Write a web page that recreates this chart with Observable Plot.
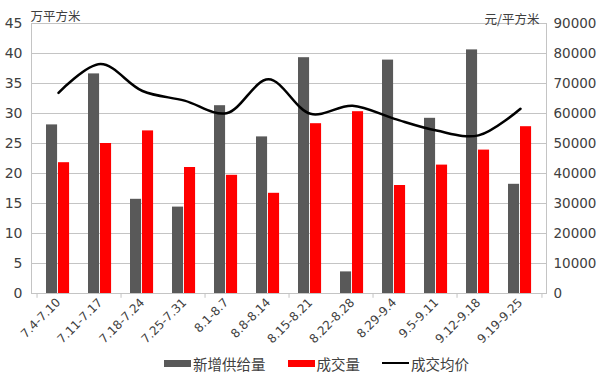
<!DOCTYPE html>
<html>
<head>
<meta charset="utf-8">
<script src="https://cdn.jsdelivr.net/npm/d3@7"></script>
<script src="https://cdn.jsdelivr.net/npm/@observablehq/plot@0.6"></script>
<style>
  body { margin: 0; background: #fff; font-family: "DejaVu Sans", "Noto Sans CJK SC", sans-serif; }
  #chart { width: 600px; }
  .legend { display: flex; justify-content: flex-start; align-items: center; height: 36px; font-family: "Noto Sans CJK SC", sans-serif; font-size: 14.5px; color: #404040; padding-left: 164px; }
  .legend .item { display: flex; align-items: center; margin-right: 22px; }
  .legend .sw { width: 27px; height: 7px; margin-right: 2px; }
  .legend .ln { width: 27px; height: 2.5px; background: #000; margin-right: 2px; }
</style>
</head>
<body>
<div id="chart"></div>
<script>
const categories = ["7.4-7.10","7.11-7.17","7.18-7.24","7.25-7.31","8.1-8.7","8.8-8.14","8.15-8.21","8.22-8.28","8.29-9.4","9.5-9.11","9.12-9.18","9.19-9.25"];
const supply = [28.1,36.6,15.7,14.4,31.3,26.1,39.3,3.6,38.9,29.2,40.6,18.2];
const deals = [21.8,25.0,27.1,21.0,19.7,16.7,28.3,30.3,18.0,21.4,23.9,27.8];
const price = [66900,76500,67500,64300,60100,71400,59900,62600,58200,54300,52700,61600];
const leftTicks = [0,5,10,15,20,25,30,35,40,45];
const rightTicks = [0,10000,20000,30000,40000,50000,60000,70000,80000,90000];
const seriesNames = ["新增供给量","成交量","成交均价"];
const leftUnit = "万平方米";
const rightUnit = "元/平方米";

const ratio = rightTicks[rightTicks.length-1] / leftTicks[leftTicks.length-1];
const rows = categories.map((c, i) => ({cat: c, supply: supply[i], deals: deals[i], price: price[i]}));
const bw = 515 / 12;
const tickCats = categories.filter((c, i) => i % 2 === 0);

const chart = Plot.plot({
  width: 600, height: 345,
  marginLeft: 31, marginRight: 54, marginTop: 23, marginBottom: 52,
  style: {fontFamily: '"DejaVu Sans", "Noto Sans CJK SC", sans-serif', background: "#fff"},
  x: {domain: categories, padding: 0, axis: null},
  y: {domain: [0, 45], axis: null},
  marks: [
    Plot.gridY(leftTicks, {stroke: "#c4c4c4", strokeOpacity: 1, strokeWidth: 1}),
    Plot.frame({stroke: "#c4c4c4"}),
    Plot.barY(rows, {x: "cat", y: "supply", fill: "#595959", insetLeft: 9, insetRight: bw - 21}),
    Plot.barY(rows, {x: "cat", y: "deals", fill: "#ff0000", insetLeft: 21, insetRight: bw - 33}),
    Plot.line(rows, {x: "cat", y: d => d.price / ratio, stroke: "#000", strokeWidth: 2.5, curve: "catmull-rom"}),
    Plot.ruleX(tickCats, {x: d => d, dx: -bw / 2, y1: 0, y2: -0.8, stroke: "#c4c4c4"}),
    Plot.ruleX([categories[categories.length - 1]], {dx: bw / 2, y1: 0, y2: -0.8, stroke: "#c4c4c4"}),
    Plot.axisY(leftTicks, {anchor: "left", tickSize: 0, tickPadding: 9, fontSize: 14, fill: "#404040", label: null}),
    Plot.axisY(leftTicks, {anchor: "right", tickSize: 0, tickPadding: 7, fontSize: 13.5, fill: "#404040", label: null, tickFormat: d => String(d * ratio)}),
    Plot.axisX({tickRotate: -45, tickSize: 0, tickPadding: 7, fontSize: 12, fill: "#404040", label: null}),
    Plot.text([leftUnit], {frameAnchor: "top-left", dy: -11, dx: -1, textAnchor: "start", fontSize: 12.5, fill: "#404040", fontFamily: "Noto Sans CJK SC"}),
    Plot.text([rightUnit], {frameAnchor: "top-right", dy: -8, dx: -7, textAnchor: "end", fontSize: 12.5, fill: "#404040", fontFamily: "Noto Sans CJK SC"})
  ]
});
document.getElementById("chart").appendChild(chart);

const legend = document.createElement("div");
legend.className = "legend";
legend.innerHTML =
  `<span class="item"><span class="sw" style="background:#595959"></span>${seriesNames[0]}</span>` +
  `<span class="item"><span class="sw" style="background:#ff0000"></span>${seriesNames[1]}</span>` +
  `<span class="item"><span class="ln"></span>${seriesNames[2]}</span>`;
document.getElementById("chart").appendChild(legend);
</script>
</body>
</html>
